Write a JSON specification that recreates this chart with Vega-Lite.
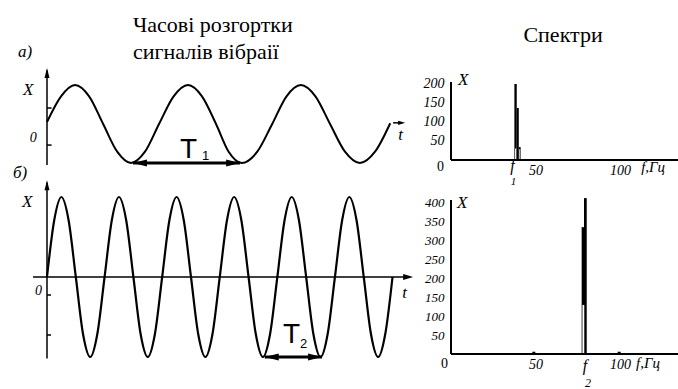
{
"$schema": "https://vega.github.io/schema/vega-lite/v6.json",
"padding": 0,
"background": "white",
"columns": 2,
"spacing": {"row": 0, "column": 41},
"bounds": "flush",
"config": {"view": {"stroke": null}, "mark": {"color": "black"}},
"datasets": {
"waveA": [{"t":0,"X":0.05},{"t":0.245,"X":0.71},{"t":0.49,"X":1},{"t":0.735,"X":0.71},{"t":0.98,"X":0},{"t":1.225,"X":-0.71},{"t":1.465,"X":-1},{"t":1.71,"X":-0.71},{"t":1.955,"X":0},{"t":2.21,"X":0.71},{"t":2.46,"X":1},{"t":2.705,"X":0.71},{"t":2.95,"X":0},{"t":3.17,"X":-0.71},{"t":3.4,"X":-1},{"t":3.67,"X":-0.71},{"t":3.93,"X":0},{"t":4.18,"X":0.71},{"t":4.43,"X":1},{"t":4.685,"X":0.71},{"t":4.94,"X":0},{"t":5.2,"X":-0.71},{"t":5.46,"X":-1},{"t":5.725,"X":-0.71},{"t":5.99,"X":0.02}],
"waveB": [{"t":0,"X":0},{"t":0.126,"X":0.71},{"t":0.251,"X":1},{"t":0.377,"X":0.71},{"t":0.503,"X":0},{"t":0.628,"X":-0.71},{"t":0.754,"X":-1},{"t":0.879,"X":-0.71},{"t":1.005,"X":0},{"t":1.131,"X":0.71},{"t":1.256,"X":1},{"t":1.382,"X":0.71},{"t":1.508,"X":0},{"t":1.633,"X":-0.71},{"t":1.759,"X":-1},{"t":1.884,"X":-0.71},{"t":2.01,"X":0},{"t":2.136,"X":0.71},{"t":2.261,"X":1},{"t":2.387,"X":0.71},{"t":2.513,"X":0},{"t":2.638,"X":-0.71},{"t":2.764,"X":-1},{"t":2.889,"X":-0.71},{"t":3.015,"X":0},{"t":3.141,"X":0.71},{"t":3.266,"X":1},{"t":3.392,"X":0.71},{"t":3.518,"X":0},{"t":3.643,"X":-0.71},{"t":3.769,"X":-1},{"t":3.894,"X":-0.71},{"t":4.02,"X":0},{"t":4.146,"X":0.71},{"t":4.271,"X":1},{"t":4.397,"X":0.71},{"t":4.523,"X":0},{"t":4.648,"X":-0.71},{"t":4.774,"X":-1},{"t":4.899,"X":-0.71},{"t":5.025,"X":0},{"t":5.151,"X":0.71},{"t":5.276,"X":1},{"t":5.402,"X":0.71},{"t":5.528,"X":0},{"t":5.653,"X":-0.71},{"t":5.779,"X":-1},{"t":5.904,"X":-0.71},{"t":6.03,"X":0}],
"ticksA": [{"X":0.41},{"X":-0.54}],
"ticksB": [{"X":-0.225},{"X":-0.725}],
"spec1": [{"f0":37.5,"f1":38.9,"amp":200},{"f0":38.9,"f1":40.1,"amp":137},{"f0":40.1,"f1":41.2,"amp":34}],
"spec1hollow": [{"f0":37.9,"f1":38.6,"amp":30},{"f0":40.4,"f1":40.9,"amp":28}],
"spec2": [{"f0":77.3,"f1":78.7,"amp":336},{"f0":78.7,"f1":80.3,"amp":413}],
"spec2hollow": [{"f0":77.75,"f1":78.85,"amp":130}],
"spec2ticks": [{"f":49},{"f":99.5}]
},
"concat": [
{
"width": 410, "height": 172,
"layer": [
{"data":{"name":"waveA"},"mark":{"type":"line","interpolate":"monotone","strokeWidth":2},"encoding":{"x":{"field":"t","type":"quantitative","scale":{"domain":[-0.8202,6.3351],"nice":false,"zero":false},"axis":null},"y":{"field":"X","type":"quantitative","scale":{"domain":[-1.2308,3.1795],"nice":false,"zero":false},"axis":null}}},
{"data":{"values":[{}]},"mark":{"type":"rule","strokeWidth":1.5},"encoding":{"x":{"datum":0,"type":"quantitative","scale":{"domain":[-0.8202,6.3351],"nice":false,"zero":false},"axis":null},"y":{"datum":-1.05,"type":"quantitative","scale":{"domain":[-1.2308,3.1795],"nice":false,"zero":false},"axis":null},"y2":{"datum":1.38}}},
{"data":{"values":[{}]},"mark":{"type":"point","shape":"M0,0L-0.5,2L0.5,2Z","filled":true,"size":100,"opacity":1},"encoding":{"x":{"datum":0,"type":"quantitative","scale":{"domain":[-0.8202,6.3351],"nice":false,"zero":false},"axis":null},"y":{"datum":1.436,"type":"quantitative","scale":{"domain":[-1.2308,3.1795],"nice":false,"zero":false},"axis":null}}},
{"data":{"name":"ticksA"},"mark":{"type":"rule","strokeWidth":1.5},"encoding":{"x":{"datum":0,"type":"quantitative","scale":{"domain":[-0.8202,6.3351],"nice":false,"zero":false},"axis":null},"x2":{"datum":0.08},"y":{"field":"X","type":"quantitative","scale":{"domain":[-1.2308,3.1795],"nice":false,"zero":false},"axis":null}}},
{"data":{"values":[{}]},"mark":{"type":"rule","strokeWidth":3},"encoding":{"x":{"datum":1.5,"type":"quantitative","scale":{"domain":[-0.8202,6.3351],"nice":false,"zero":false},"axis":null},"x2":{"datum":3.37},"y":{"datum":-1.0,"type":"quantitative","scale":{"domain":[-1.2308,3.1795],"nice":false,"zero":false},"axis":null}}},
{"data":{"values":[{}]},"mark":{"type":"point","shape":"M0,0L2,-0.5L2,0.5Z","filled":true,"size":196,"opacity":1},"encoding":{"x":{"datum":1.5,"type":"quantitative","scale":{"domain":[-0.8202,6.3351],"nice":false,"zero":false},"axis":null},"y":{"datum":-1.0,"type":"quantitative","scale":{"domain":[-1.2308,3.1795],"nice":false,"zero":false},"axis":null}}},
{"data":{"values":[{}]},"mark":{"type":"point","shape":"M0,0L-2,-0.5L-2,0.5Z","filled":true,"size":196,"opacity":1},"encoding":{"x":{"datum":3.37,"type":"quantitative","scale":{"domain":[-0.8202,6.3351],"nice":false,"zero":false},"axis":null},"y":{"datum":-1.0,"type":"quantitative","scale":{"domain":[-1.2308,3.1795],"nice":false,"zero":false},"axis":null}}},
{"data":{"values":[{}]},"mark":{"type":"rule","strokeWidth":1.5},"encoding":{"x":{"datum":6.04,"type":"quantitative","scale":{"domain":[-0.8202,6.3351],"nice":false,"zero":false},"axis":null},"x2":{"datum":6.2},"y":{"datum":0.03,"type":"quantitative","scale":{"domain":[-1.2308,3.1795],"nice":false,"zero":false},"axis":null}}},
{"data":{"values":[{}]},"mark":{"type":"point","shape":"M0,0L-2,-0.6L-2,0.6Z","filled":true,"size":49,"opacity":1},"encoding":{"x":{"datum":6.25,"type":"quantitative","scale":{"domain":[-0.8202,6.3351],"nice":false,"zero":false},"axis":null},"y":{"datum":0.03,"type":"quantitative","scale":{"domain":[-1.2308,3.1795],"nice":false,"zero":false},"axis":null}}},
{"data":{"values":[{}]},"mark":{"type":"text","text":"Часові розгортки\nсигналів  вібраії","lineBreak":"\n","lineHeight":27,"font":"Liberation Serif","fontSize":22,"align":"left","baseline":"alphabetic"},"encoding":{"x":{"datum":1.5,"type":"quantitative","scale":{"domain":[-0.8202,6.3351],"nice":false,"zero":false},"axis":null},"y":{"datum":2.36,"type":"quantitative","scale":{"domain":[-1.2308,3.1795],"nice":false,"zero":false},"axis":null}}},
{"data":{"values":[{}]},"mark":{"type":"text","text":"а)","font":"Liberation Serif","fontStyle":"italic","fontSize":17,"align":"left","baseline":"alphabetic"},"encoding":{"x":{"datum":-0.506,"type":"quantitative","scale":{"domain":[-0.8202,6.3351],"nice":false,"zero":false},"axis":null},"y":{"datum":1.72,"type":"quantitative","scale":{"domain":[-1.2308,3.1795],"nice":false,"zero":false},"axis":null}}},
{"data":{"values":[{}]},"mark":{"type":"text","text":"X","font":"Liberation Serif","fontStyle":"italic","fontSize":17,"align":"left","baseline":"alphabetic"},"encoding":{"x":{"datum":-0.42,"type":"quantitative","scale":{"domain":[-0.8202,6.3351],"nice":false,"zero":false},"axis":null},"y":{"datum":0.74,"type":"quantitative","scale":{"domain":[-1.2308,3.1795],"nice":false,"zero":false},"axis":null}}},
{"data":{"values":[{}]},"mark":{"type":"text","text":"0","font":"Liberation Serif","fontStyle":"italic","fontSize":14,"align":"left","baseline":"alphabetic"},"encoding":{"x":{"datum":-0.3,"type":"quantitative","scale":{"domain":[-0.8202,6.3351],"nice":false,"zero":false},"axis":null},"y":{"datum":-0.46,"type":"quantitative","scale":{"domain":[-1.2308,3.1795],"nice":false,"zero":false},"axis":null}}},
{"data":{"values":[{}]},"mark":{"type":"text","text":"T","font":"Liberation Sans","fontSize":28,"align":"left","baseline":"alphabetic"},"encoding":{"x":{"datum":2.32,"type":"quantitative","scale":{"domain":[-0.8202,6.3351],"nice":false,"zero":false},"axis":null},"y":{"datum":-0.87,"type":"quantitative","scale":{"domain":[-1.2308,3.1795],"nice":false,"zero":false},"axis":null}}},
{"data":{"values":[{}]},"mark":{"type":"text","text":"1","font":"Liberation Sans","fontSize":13,"align":"left","baseline":"alphabetic"},"encoding":{"x":{"datum":2.705,"type":"quantitative","scale":{"domain":[-0.8202,6.3351],"nice":false,"zero":false},"axis":null},"y":{"datum":-0.923,"type":"quantitative","scale":{"domain":[-1.2308,3.1795],"nice":false,"zero":false},"axis":null}}},
{"data":{"values":[{}]},"mark":{"type":"text","text":"t","font":"Liberation Serif","fontStyle":"italic","fontSize":17,"align":"left","baseline":"alphabetic"},"encoding":{"x":{"datum":6.13,"type":"quantitative","scale":{"domain":[-0.8202,6.3351],"nice":false,"zero":false},"axis":null},"y":{"datum":-0.41,"type":"quantitative","scale":{"domain":[-1.2308,3.1795],"nice":false,"zero":false},"axis":null}}}
]
},
{
"width": 227, "height": 160,
"layer": [
{"data":{"name":"spec1"},"mark":{"type":"rect"},"encoding":{"x":{"field":"f0","type":"quantitative","scale":{"domain":[0,134.3],"nice":false,"zero":false},"axis":{"values":[50,100],"tickCount":10,"domain":false,"ticks":false,"grid":false,"labelPadding":3,"labelOverlap":false,"labelFont":"Liberation Serif","labelFontStyle":"italic","labelFontSize":14,"labelColor":"black","title":null}},"x2":{"field":"f1"},"y":{"field":"amp","type":"quantitative","scale":{"domain":[0,421.05],"nice":false,"zero":false},"axis":{"values":[50,100,150,200],"tickCount":10,"domain":false,"ticks":false,"grid":false,"labelPadding":7,"labelOverlap":false,"labelFont":"Liberation Serif","labelFontStyle":"italic","labelFontSize":14,"labelColor":"black","title":null}},"y2":{"datum":0}}},
{"data":{"name":"spec1hollow"},"mark":{"type":"rect","color":"white"},"encoding":{"x":{"field":"f0","type":"quantitative","scale":{"domain":[0,134.3],"nice":false,"zero":false}},"x2":{"field":"f1"},"y":{"field":"amp","type":"quantitative","scale":{"domain":[0,421.05],"nice":false,"zero":false}},"y2":{"datum":0}}},
{"data":{"values":[{}]},"mark":{"type":"rule","strokeWidth":2},"encoding":{"x":{"datum":0,"type":"quantitative","scale":{"domain":[0,134.3],"nice":false,"zero":false}},"x2":{"datum":134.3},"y":{"datum":0,"type":"quantitative","scale":{"domain":[0,421.05],"nice":false,"zero":false}}}},
{"data":{"values":[{}]},"mark":{"type":"rule","strokeWidth":2},"encoding":{"x":{"datum":0,"type":"quantitative","scale":{"domain":[0,134.3],"nice":false,"zero":false}},"y":{"datum":0,"type":"quantitative","scale":{"domain":[0,421.05],"nice":false,"zero":false}},"y2":{"datum":205}}},
{"data":{"values":[{}]},"mark":{"type":"text","text":"Спектри","font":"Liberation Serif","fontSize":22,"align":"center","baseline":"alphabetic"},"encoding":{"x":{"datum":66.3,"type":"quantitative","scale":{"domain":[0,134.3],"nice":false,"zero":false}},"y":{"datum":310.5,"type":"quantitative","scale":{"domain":[0,421.05],"nice":false,"zero":false}}}},
{"data":{"values":[{}]},"mark":{"type":"text","text":"X","font":"Liberation Serif","fontStyle":"italic","fontSize":17,"align":"left","baseline":"alphabetic"},"encoding":{"x":{"datum":4.1,"type":"quantitative","scale":{"domain":[0,134.3],"nice":false,"zero":false}},"y":{"datum":197,"type":"quantitative","scale":{"domain":[0,421.05],"nice":false,"zero":false}}}},
{"data":{"values":[{}]},"mark":{"type":"text","text":"0","font":"Liberation Serif","fontSize":14,"align":"center","baseline":"alphabetic"},"encoding":{"x":{"datum":-6.2,"type":"quantitative","scale":{"domain":[0,134.3],"nice":false,"zero":false}},"y":{"datum":-29,"type":"quantitative","scale":{"domain":[0,421.05],"nice":false,"zero":false}}}},
{"data":{"values":[{}]},"mark":{"type":"text","text":"f","font":"Liberation Serif","fontStyle":"italic","fontSize":16,"align":"center","baseline":"alphabetic"},"encoding":{"x":{"datum":36.4,"type":"quantitative","scale":{"domain":[0,134.3],"nice":false,"zero":false}},"y":{"datum":-29,"type":"quantitative","scale":{"domain":[0,421.05],"nice":false,"zero":false}}}},
{"data":{"values":[{}]},"mark":{"type":"text","text":"1","font":"Liberation Serif","fontStyle":"italic","fontSize":11,"align":"center","baseline":"alphabetic"},"encoding":{"x":{"datum":37,"type":"quantitative","scale":{"domain":[0,134.3],"nice":false,"zero":false}},"y":{"datum":-67,"type":"quantitative","scale":{"domain":[0,421.05],"nice":false,"zero":false}}}},
{"data":{"values":[{}]},"mark":{"type":"text","text":"f,Гц","font":"Liberation Serif","fontStyle":"italic","fontSize":15,"align":"left","baseline":"alphabetic"},"encoding":{"x":{"datum":112.5,"type":"quantitative","scale":{"domain":[0,134.3],"nice":false,"zero":false}},"y":{"datum":-31.6,"type":"quantitative","scale":{"domain":[0,421.05],"nice":false,"zero":false}}}}
]
},
{
"width": 410, "height": 217,
"layer": [
{"data":{"name":"waveB"},"mark":{"type":"line","interpolate":"monotone","strokeWidth":2.2},"encoding":{"x":{"field":"t","type":"quantitative","scale":{"domain":[-0.8202,6.3351],"nice":false,"zero":false},"axis":null},"y":{"field":"X","type":"quantitative","scale":{"domain":[-1.4,1.3125],"nice":false,"zero":false},"axis":null}}},
{"data":{"values":[{}]},"mark":{"type":"rule","strokeWidth":1.5},"encoding":{"x":{"datum":0,"type":"quantitative","scale":{"domain":[-0.8202,6.3351],"nice":false,"zero":false},"axis":null},"y":{"datum":-1.02,"type":"quantitative","scale":{"domain":[-1.4,1.3125],"nice":false,"zero":false},"axis":null},"y2":{"datum":1.18}}},
{"data":{"values":[{}]},"mark":{"type":"point","shape":"M0,0L-0.5,2L0.5,2Z","filled":true,"size":100,"opacity":1},"encoding":{"x":{"datum":0,"type":"quantitative","scale":{"domain":[-0.8202,6.3351],"nice":false,"zero":false},"axis":null},"y":{"datum":1.21,"type":"quantitative","scale":{"domain":[-1.4,1.3125],"nice":false,"zero":false},"axis":null}}},
{"data":{"values":[{}]},"mark":{"type":"rule","strokeWidth":1.5},"encoding":{"x":{"datum":-0.244,"type":"quantitative","scale":{"domain":[-0.8202,6.3351],"nice":false,"zero":false},"axis":null},"x2":{"datum":6.3},"y":{"datum":0,"type":"quantitative","scale":{"domain":[-1.4,1.3125],"nice":false,"zero":false},"axis":null}}},
{"data":{"values":[{}]},"mark":{"type":"point","shape":"M0,0L-2,-0.6L-2,0.6Z","filled":true,"size":100,"opacity":1},"encoding":{"x":{"datum":6.39,"type":"quantitative","scale":{"domain":[-0.8202,6.3351],"nice":false,"zero":false},"axis":null},"y":{"datum":0,"type":"quantitative","scale":{"domain":[-1.4,1.3125],"nice":false,"zero":false},"axis":null}}},
{"data":{"name":"ticksB"},"mark":{"type":"rule","strokeWidth":1.5},"encoding":{"x":{"datum":0,"type":"quantitative","scale":{"domain":[-0.8202,6.3351],"nice":false,"zero":false},"axis":null},"x2":{"datum":0.07},"y":{"field":"X","type":"quantitative","scale":{"domain":[-1.4,1.3125],"nice":false,"zero":false},"axis":null}}},
{"data":{"values":[{}]},"mark":{"type":"rule","strokeWidth":3},"encoding":{"x":{"datum":3.8,"type":"quantitative","scale":{"domain":[-0.8202,6.3351],"nice":false,"zero":false},"axis":null},"x2":{"datum":4.8},"y":{"datum":-1.0,"type":"quantitative","scale":{"domain":[-1.4,1.3125],"nice":false,"zero":false},"axis":null}}},
{"data":{"values":[{}]},"mark":{"type":"point","shape":"M0,0L2,-0.5L2,0.5Z","filled":true,"size":196,"opacity":1},"encoding":{"x":{"datum":3.8,"type":"quantitative","scale":{"domain":[-0.8202,6.3351],"nice":false,"zero":false},"axis":null},"y":{"datum":-1.0,"type":"quantitative","scale":{"domain":[-1.4,1.3125],"nice":false,"zero":false},"axis":null}}},
{"data":{"values":[{}]},"mark":{"type":"point","shape":"M0,0L-2,-0.5L-2,0.5Z","filled":true,"size":196,"opacity":1},"encoding":{"x":{"datum":4.8,"type":"quantitative","scale":{"domain":[-0.8202,6.3351],"nice":false,"zero":false},"axis":null},"y":{"datum":-1.0,"type":"quantitative","scale":{"domain":[-1.4,1.3125],"nice":false,"zero":false},"axis":null}}},
{"data":{"values":[{}]},"mark":{"type":"text","text":"б)","font":"Liberation Serif","fontStyle":"italic","fontSize":17,"align":"left","baseline":"alphabetic"},"encoding":{"x":{"datum":-0.593,"type":"quantitative","scale":{"domain":[-0.8202,6.3351],"nice":false,"zero":false},"axis":null},"y":{"datum":1.2375,"type":"quantitative","scale":{"domain":[-1.4,1.3125],"nice":false,"zero":false},"axis":null}}},
{"data":{"values":[{}]},"mark":{"type":"text","text":"X","font":"Liberation Serif","fontStyle":"italic","fontSize":17,"align":"left","baseline":"alphabetic"},"encoding":{"x":{"datum":-0.436,"type":"quantitative","scale":{"domain":[-0.8202,6.3351],"nice":false,"zero":false},"axis":null},"y":{"datum":0.875,"type":"quantitative","scale":{"domain":[-1.4,1.3125],"nice":false,"zero":false},"axis":null}}},
{"data":{"values":[{}]},"mark":{"type":"text","text":"0","font":"Liberation Serif","fontStyle":"italic","fontSize":14,"align":"left","baseline":"alphabetic"},"encoding":{"x":{"datum":-0.21,"type":"quantitative","scale":{"domain":[-0.8202,6.3351],"nice":false,"zero":false},"axis":null},"y":{"datum":-0.225,"type":"quantitative","scale":{"domain":[-1.4,1.3125],"nice":false,"zero":false},"axis":null}}},
{"data":{"values":[{}]},"mark":{"type":"text","text":"t","font":"Liberation Serif","fontStyle":"italic","fontSize":17,"align":"left","baseline":"alphabetic"},"encoding":{"x":{"datum":6.2,"type":"quantitative","scale":{"domain":[-0.8202,6.3351],"nice":false,"zero":false},"axis":null},"y":{"datum":-0.2625,"type":"quantitative","scale":{"domain":[-1.4,1.3125],"nice":false,"zero":false},"axis":null}}},
{"data":{"values":[{}]},"mark":{"type":"text","text":"T","font":"Liberation Sans","fontSize":28,"align":"left","baseline":"alphabetic"},"encoding":{"x":{"datum":4.12,"type":"quantitative","scale":{"domain":[-0.8202,6.3351],"nice":false,"zero":false},"axis":null},"y":{"datum":-0.825,"type":"quantitative","scale":{"domain":[-1.4,1.3125],"nice":false,"zero":false},"axis":null}}},
{"data":{"values":[{}]},"mark":{"type":"text","text":"2","font":"Liberation Sans","fontSize":13,"align":"left","baseline":"alphabetic"},"encoding":{"x":{"datum":4.415,"type":"quantitative","scale":{"domain":[-0.8202,6.3351],"nice":false,"zero":false},"axis":null},"y":{"datum":-0.8875,"type":"quantitative","scale":{"domain":[-1.4,1.3125],"nice":false,"zero":false},"axis":null}}}
]
},
{
"width": 227, "height": 182,
"layer": [
{"data":{"name":"spec2"},"mark":{"type":"rect"},"encoding":{"x":{"field":"f0","type":"quantitative","scale":{"domain":[0,134.3],"nice":false,"zero":false},"axis":{"values":[50,100],"tickCount":10,"domain":false,"ticks":false,"grid":false,"labelPadding":3,"labelOverlap":false,"labelFont":"Liberation Serif","labelFontStyle":"italic","labelFontSize":14,"labelColor":"black","title":null}},"x2":{"field":"f1"},"y":{"field":"amp","type":"quantitative","scale":{"domain":[0,482.1],"nice":false,"zero":false},"axis":{"values":[50,100,150,200,250,300,350,400],"tickCount":10,"domain":false,"ticks":false,"grid":false,"labelPadding":7,"labelOverlap":false,"labelFont":"Liberation Serif","labelFontStyle":"italic","labelFontSize":13,"labelColor":"black","title":null}},"y2":{"datum":0}}},
{"data":{"name":"spec2hollow"},"mark":{"type":"rect","color":"white"},"encoding":{"x":{"field":"f0","type":"quantitative","scale":{"domain":[0,134.3],"nice":false,"zero":false}},"x2":{"field":"f1"},"y":{"field":"amp","type":"quantitative","scale":{"domain":[0,482.1],"nice":false,"zero":false}},"y2":{"datum":0}}},
{"data":{"values":[{}]},"mark":{"type":"rule","strokeWidth":2},"encoding":{"x":{"datum":0,"type":"quantitative","scale":{"domain":[0,134.3],"nice":false,"zero":false}},"x2":{"datum":134.3},"y":{"datum":0,"type":"quantitative","scale":{"domain":[0,482.1],"nice":false,"zero":false}}}},
{"data":{"values":[{}]},"mark":{"type":"rule","strokeWidth":2},"encoding":{"x":{"datum":0,"type":"quantitative","scale":{"domain":[0,134.3],"nice":false,"zero":false}},"y":{"datum":0,"type":"quantitative","scale":{"domain":[0,482.1],"nice":false,"zero":false}},"y2":{"datum":408}}},
{"data":{"name":"spec2ticks"},"mark":{"type":"rule","strokeWidth":3},"encoding":{"x":{"field":"f","type":"quantitative","scale":{"domain":[0,134.3],"nice":false,"zero":false}},"y":{"datum":0,"type":"quantitative","scale":{"domain":[0,482.1],"nice":false,"zero":false}},"y2":{"datum":6}}},
{"data":{"values":[{}]},"mark":{"type":"text","text":"X","font":"Liberation Serif","fontStyle":"italic","fontSize":17,"align":"left","baseline":"alphabetic"},"encoding":{"x":{"datum":3.6,"type":"quantitative","scale":{"domain":[0,134.3],"nice":false,"zero":false}},"y":{"datum":386.8,"type":"quantitative","scale":{"domain":[0,482.1],"nice":false,"zero":false}}}},
{"data":{"values":[{}]},"mark":{"type":"text","text":"0","font":"Liberation Serif","fontSize":14,"align":"center","baseline":"alphabetic"},"encoding":{"x":{"datum":-3.8,"type":"quantitative","scale":{"domain":[0,134.3],"nice":false,"zero":false}},"y":{"datum":-37,"type":"quantitative","scale":{"domain":[0,482.1],"nice":false,"zero":false}}}},
{"data":{"values":[{}]},"mark":{"type":"text","text":"f","font":"Liberation Serif","fontStyle":"italic","fontSize":16,"align":"center","baseline":"alphabetic"},"encoding":{"x":{"datum":79.3,"type":"quantitative","scale":{"domain":[0,134.3],"nice":false,"zero":false}},"y":{"datum":-45,"type":"quantitative","scale":{"domain":[0,482.1],"nice":false,"zero":false}}}},
{"data":{"values":[{}]},"mark":{"type":"text","text":"2","font":"Liberation Serif","fontStyle":"italic","fontSize":12,"align":"center","baseline":"alphabetic"},"encoding":{"x":{"datum":81,"type":"quantitative","scale":{"domain":[0,134.3],"nice":false,"zero":false}},"y":{"datum":-88,"type":"quantitative","scale":{"domain":[0,482.1],"nice":false,"zero":false}}}},
{"data":{"values":[{}]},"mark":{"type":"text","text":"f,Гц","font":"Liberation Serif","fontStyle":"italic","fontSize":15,"align":"left","baseline":"alphabetic"},"encoding":{"x":{"datum":109.5,"type":"quantitative","scale":{"domain":[0,134.3],"nice":false,"zero":false}},"y":{"datum":-37,"type":"quantitative","scale":{"domain":[0,482.1],"nice":false,"zero":false}}}}
]
}
]
}
